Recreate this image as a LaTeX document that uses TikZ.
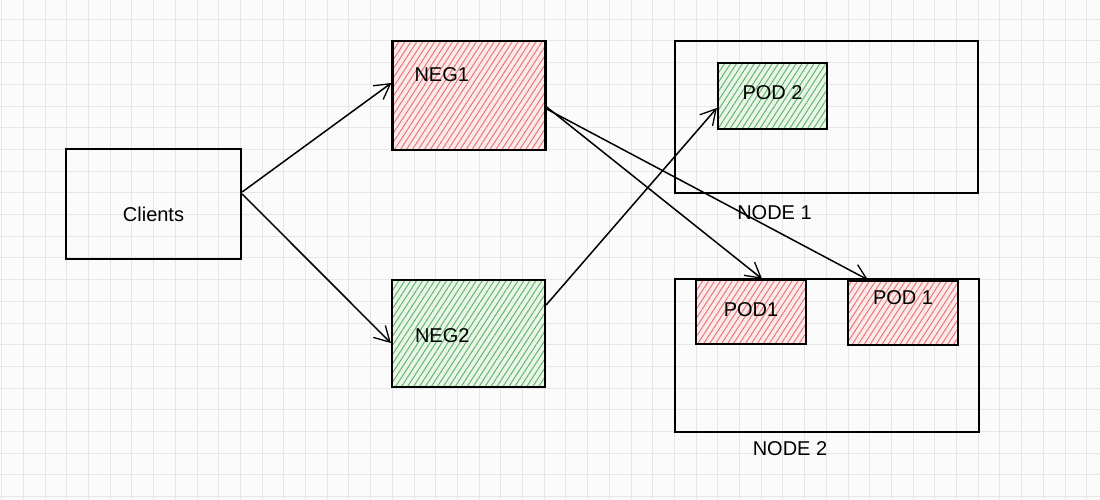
\documentclass[tikz,border=0pt]{standalone}
\usepackage{fontspec}
\setmainfont{Liberation Sans}
\usetikzlibrary{arrows.meta, patterns.meta, positioning}
\definecolor{paper}{RGB}{251,251,252}
\definecolor{gridgrey}{RGB}{230,230,232}
\definecolor{hatchred}{RGB}{232,120,120}
\definecolor{fillred}{RGB}{252,234,234}
\definecolor{hatchgreen}{RGB}{100,182,106}
\definecolor{fillgreen}{RGB}{232,245,232}
\tikzset{>={Straight Barb[length=15pt,width=17pt,line width=1.3pt]}}
\tikzset{sized/.style 2 args={minimum width=#1pt, minimum height=#2pt}}
\tikzstyle{box} = [draw=black, line width=2.3pt, inner sep=0pt]
\tikzstyle{redbox} = [box, preaction={fill=fillred}, preaction={pattern={Lines[angle=57,distance=5pt,line width=1pt]}, pattern color=hatchred}]
\tikzstyle{greenbox} = [box, preaction={fill=fillgreen}, preaction={pattern={Lines[angle=57,distance=5pt,line width=1pt]}, pattern color=hatchgreen}]
\tikzstyle{link} = [->, line width=1.5pt, black]
\tikzstyle{txt} = [font=\fontsize{20}{24}\selectfont, inner sep=0pt]

\begin{document}
\begin{tikzpicture}[x=1pt, y=1pt]
		% Paper and Grid
		\useasboundingbox (0,0) rectangle (1100,500);
		\fill[paper] (0,0) rectangle (1100,500);
		\foreach \i in {0,...,50}
		{
			\draw[gridgrey, line width=1pt] ({1.7+21.7*\i},0) -- ({1.7+21.7*\i},500);
		}
		\foreach \j in {-1,...,22}
		{
			\draw[gridgrey, line width=1pt] (0,{480.7-21.7*\j}) -- (1100,{480.7-21.7*\j});
		}
		
		% Boxes
		\node[box, sized={175}{110}] (clients) at (153.5,296) {};
		\node[redbox, sized={153}{109}] (neg1) at (469,404.5) {};
		\node[greenbox, sized={153}{107}] (neg2) at (468.5,166.5) {};
		%% Kubernetes nodes
		\node[box, sized={303}{152}] (node1) at (826.5,383) {};
		\node[box, sized={304}{153}] (node2) at (827,144.5) {};
		%% Pods
		\node[greenbox, sized={109}{66}] (pod2) at (772.5,404) {};
		\node[redbox, sized={110}{64}] (podA) at (751,188) {};
		\node[redbox, sized={110}{64}] (podB) at (903,187) {};
		
		% Labels
		\node[txt] (clientslbl) at ([yshift=-10pt]clients) {Clients};
		\node[txt, anchor=west] (neg1lbl) at ([xshift=23pt,yshift=-35pt]neg1.north west) {NEG1};
		\node[txt, anchor=west] (neg2lbl) at ([xshift=24pt,yshift=-2.5pt]neg2.west) {NEG2};
		\node[txt] (pod2lbl) at ([yshift=3pt]pod2) {POD 2};
		\node[txt] (podAlbl) at ([yshift=2pt]podA) {POD1};
		\node[txt] (podBlbl) at ([yshift=15pt]podB) {POD 1};
		\node[txt] (node1lbl) at ([xshift=-52pt,yshift=-18pt]node1.south) {NODE 1};
		\node[txt] (node2lbl) at ([xshift=-37pt,yshift=-15pt]node2.south) {NODE 2};
		
		% Links
		\draw[link] ([yshift=12pt]clients.east) -- ([yshift=12.5pt]neg1.west);
		\draw[link] ([yshift=10pt]clients.east) -- ([yshift=-9.5pt]neg2.west);
		\draw[link] ([yshift=28.5pt]neg2.east) -- ([yshift=-12pt]pod2.west);
		\draw[link] ([yshift=-11.5pt]neg1.east) -- ([xshift=11pt]podA.north);
		\draw[link] ([yshift=-13.5pt]neg1.east) -- ([xshift=-35pt]podB.north);
	\end{tikzpicture}
\end{document}
